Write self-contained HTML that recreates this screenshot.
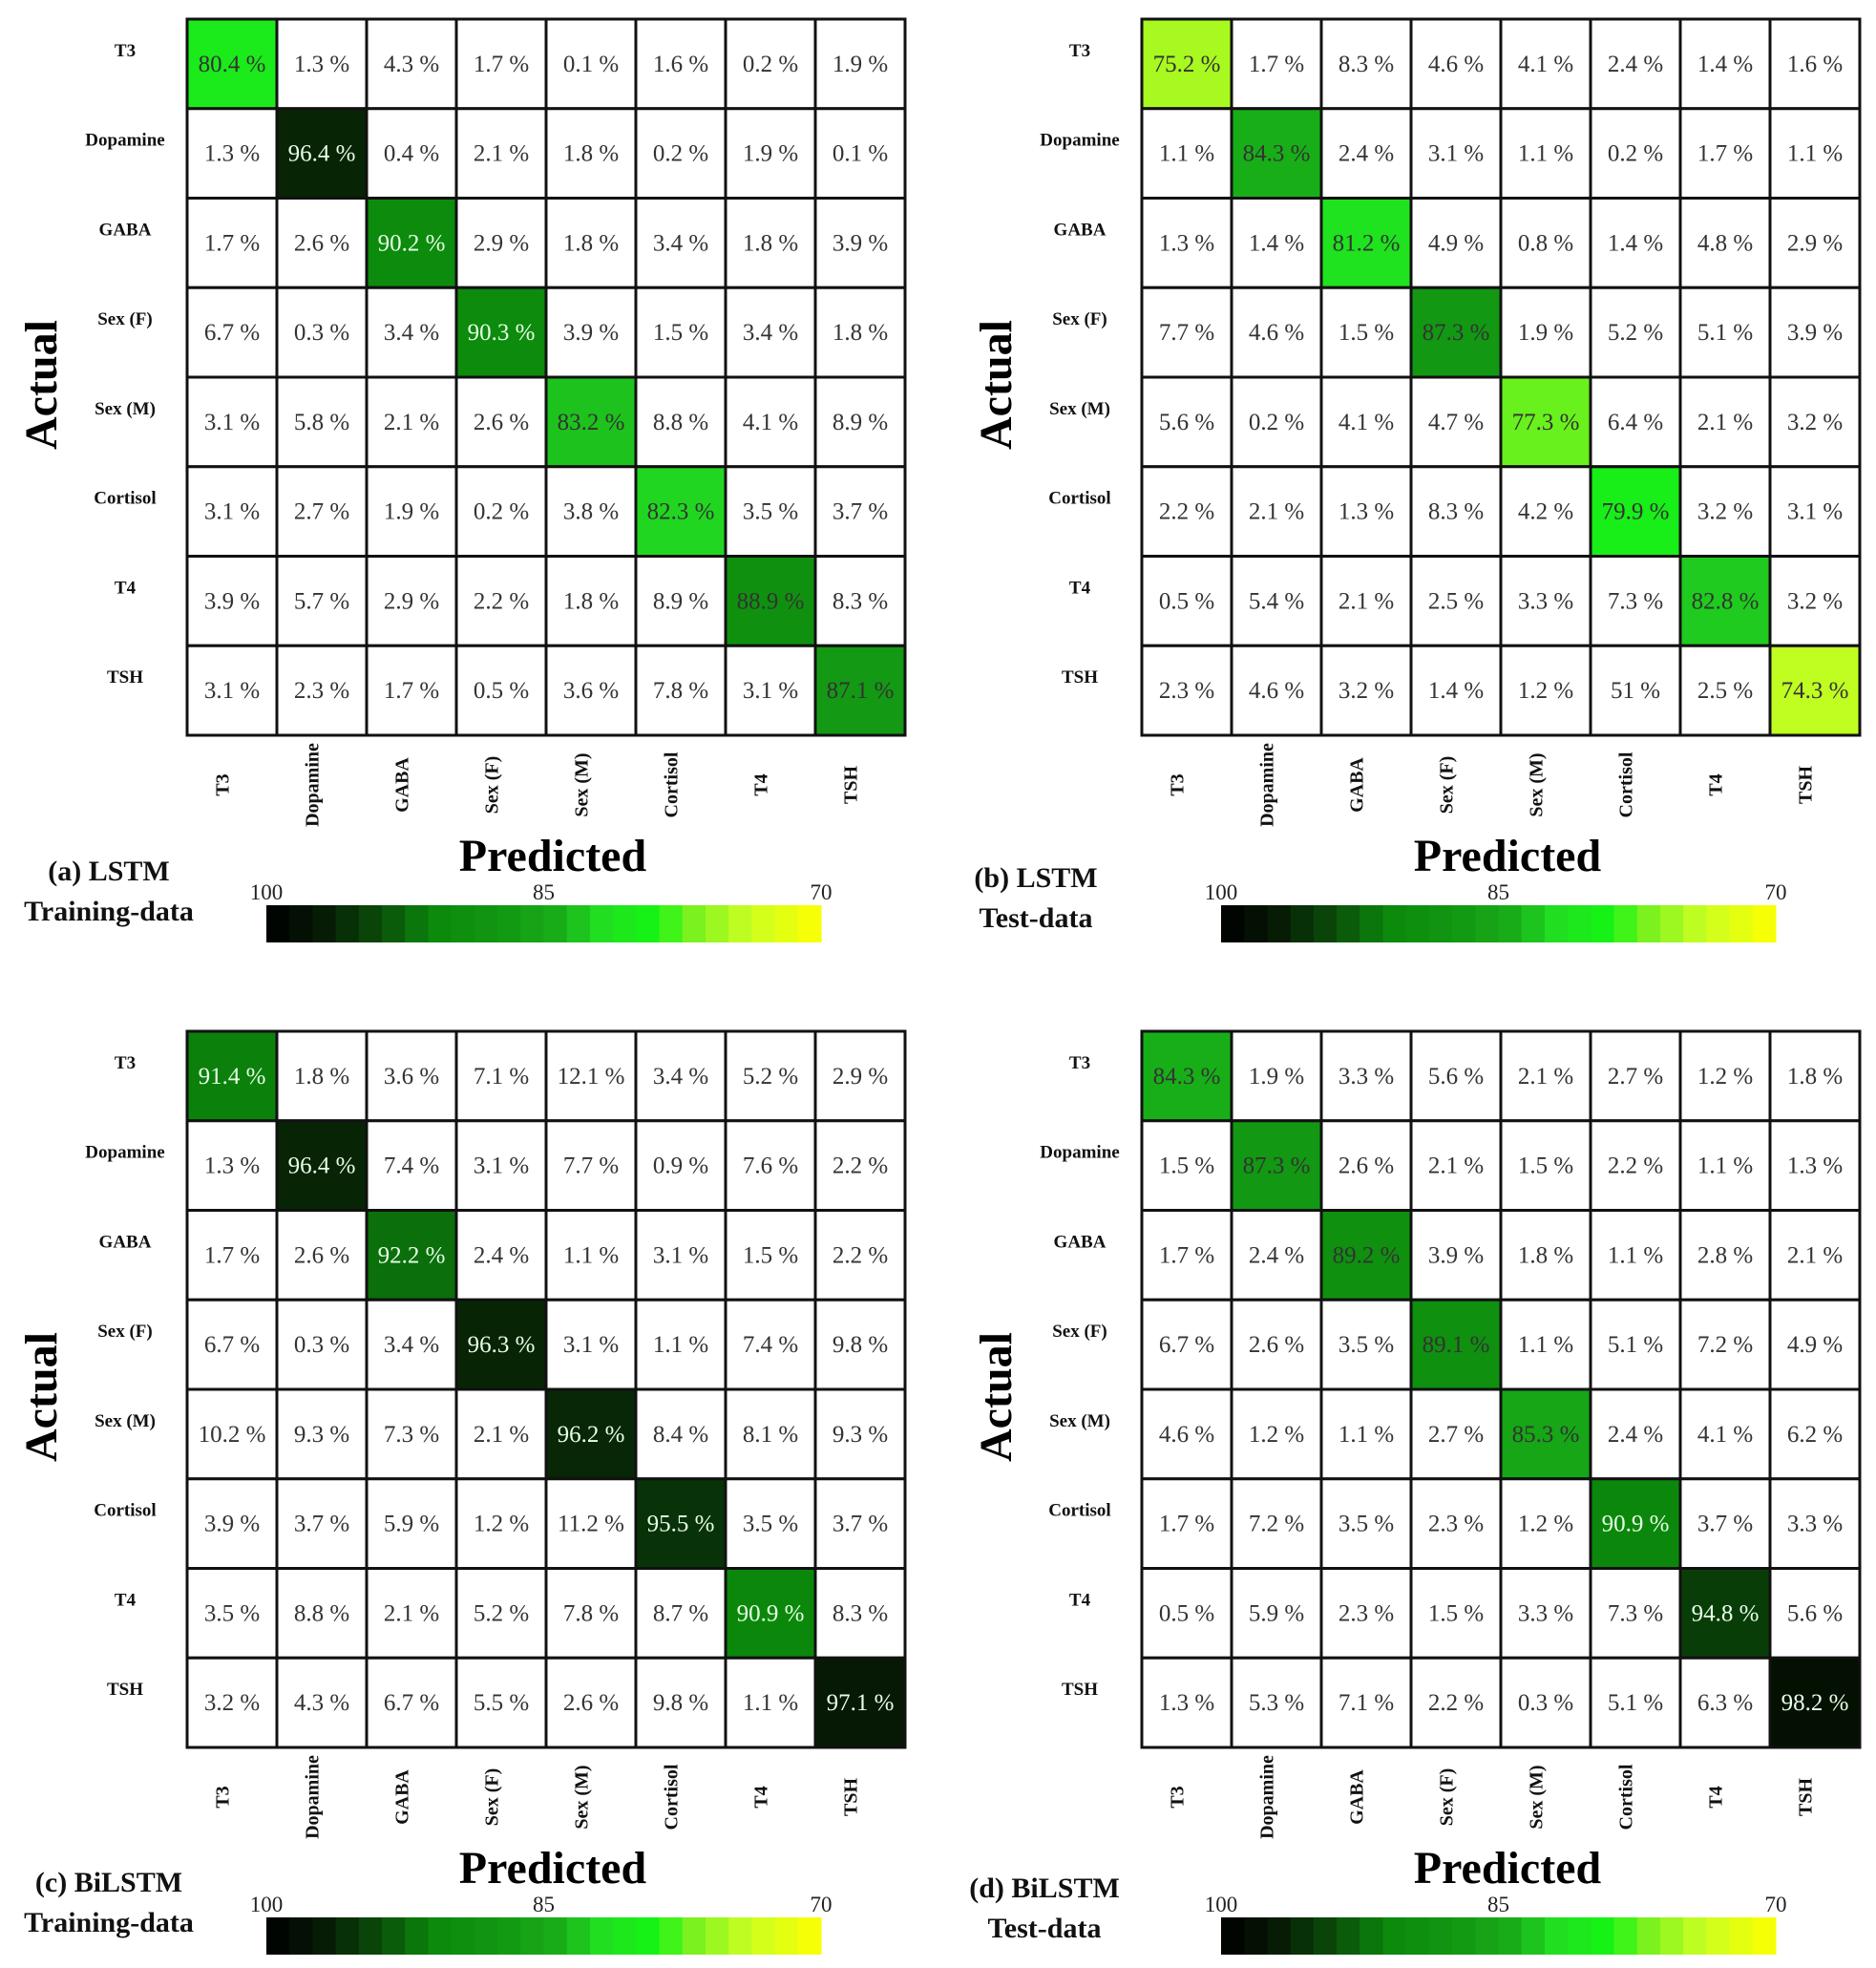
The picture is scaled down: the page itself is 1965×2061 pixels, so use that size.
<!DOCTYPE html>
<html><head><meta charset="utf-8"><style>
html,body{margin:0;padding:0;background:#fff}
svg{display:block}
text{font-family:"Liberation Serif",serif}
</style></head><body>
<svg id="fig" width="1965" height="2061" viewBox="0 0 1965 2061" xmlns="http://www.w3.org/2000/svg"></svg>
<script>
const classes = ["T3","Dopamine","GABA","Sex (F)","Sex (M)","Cortisol","T4","TSH"];
const lstmTrain = [
[80.4,1.3,4.3,1.7,0.1,1.6,0.2,1.9],
[1.3,96.4,0.4,2.1,1.8,0.2,1.9,0.1],
[1.7,2.6,90.2,2.9,1.8,3.4,1.8,3.9],
[6.7,0.3,3.4,90.3,3.9,1.5,3.4,1.8],
[3.1,5.8,2.1,2.6,83.2,8.8,4.1,8.9],
[3.1,2.7,1.9,0.2,3.8,82.3,3.5,3.7],
[3.9,5.7,2.9,2.2,1.8,8.9,88.9,8.3],
[3.1,2.3,1.7,0.5,3.6,7.8,3.1,87.1]];
const lstmTest = [
[75.2,1.7,8.3,4.6,4.1,2.4,1.4,1.6],
[1.1,84.3,2.4,3.1,1.1,0.2,1.7,1.1],
[1.3,1.4,81.2,4.9,0.8,1.4,4.8,2.9],
[7.7,4.6,1.5,87.3,1.9,5.2,5.1,3.9],
[5.6,0.2,4.1,4.7,77.3,6.4,2.1,3.2],
[2.2,2.1,1.3,8.3,4.2,79.9,3.2,3.1],
[0.5,5.4,2.1,2.5,3.3,7.3,82.8,3.2],
[2.3,4.6,3.2,1.4,1.2,51,2.5,74.3]];
const bilstmTrain = [
[91.4,1.8,3.6,7.1,12.1,3.4,5.2,2.9],
[1.3,96.4,7.4,3.1,7.7,0.9,7.6,2.2],
[1.7,2.6,92.2,2.4,1.1,3.1,1.5,2.2],
[6.7,0.3,3.4,96.3,3.1,1.1,7.4,9.8],
[10.2,9.3,7.3,2.1,96.2,8.4,8.1,9.3],
[3.9,3.7,5.9,1.2,11.2,95.5,3.5,3.7],
[3.5,8.8,2.1,5.2,7.8,8.7,90.9,8.3],
[3.2,4.3,6.7,5.5,2.6,9.8,1.1,97.1]];
const bilstmTest = [
[84.3,1.9,3.3,5.6,2.1,2.7,1.2,1.8],
[1.5,87.3,2.6,2.1,1.5,2.2,1.1,1.3],
[1.7,2.4,89.2,3.9,1.8,1.1,2.8,2.1],
[6.7,2.6,3.5,89.1,1.1,5.1,7.2,4.9],
[4.6,1.2,1.1,2.7,85.3,2.4,4.1,6.2],
[1.7,7.2,3.5,2.3,1.2,90.9,3.7,3.3],
[0.5,5.9,2.3,1.5,3.3,7.3,94.8,5.6],
[1.3,5.3,7.1,2.2,0.3,5.1,6.3,98.2]];
const colorbarTicks = [100,85,70];

const NS="http://www.w3.org/2000/svg";
const svg=document.getElementById('fig');
function mk(tag,attrs,parent,txt){const e=document.createElementNS(NS,tag);for(const k in attrs)e.setAttribute(k,attrs[k]);if(txt!==undefined)e.textContent=txt;(parent||svg).appendChild(e);return e;}
const stops=[[100,[0,0,0]],[97,[6,26,4]],[94,[10,74,10]],[91,[11,136,11]],[87,[19,153,19]],[84,[25,176,25]],[82,[34,221,34]],[79,[20,245,20]],[77,[120,240,30]],[74,[200,255,34]],[70,[255,255,0]]];
function cmap(v){v=Math.max(70,Math.min(100,v));for(let i=0;i<stops.length-1;i++){const a=stops[i],b=stops[i+1];if(v<=a[0]&&v>=b[0]){const t=(a[0]-v)/(a[0]-b[0]);const c=a[1].map((x,j)=>Math.round(x+(b[1][j]-x)*t));return `rgb(${c[0]},${c[1]},${c[2]})`;}}return '#ff0';}
const CW=94,CH=93.75;
const panels=[
{data:lstmTrain,x:196,y:20,cap1:"(a) LSTM",cap2:"Training-data",cx:114,cy:922,cbx:279,name:"a"},
{data:lstmTest,x:1196,y:20,cap1:"(b) LSTM",cap2:"Test-data",cx:1085,cy:929,cbx:1279,name:"b"},
{data:bilstmTrain,x:196,y:1080,cap1:"(c) BiLSTM",cap2:"Training-data",cx:114,cy:1981,cbx:279,name:"c"},
{data:bilstmTest,x:1196,y:1080,cap1:"(d) BiLSTM",cap2:"Test-data",cx:1094,cy:1987,cbx:1279,name:"d"}];
panels.forEach(p=>{
 const g=mk('g',{});
 
 
 p.data.forEach((row,i)=>row.forEach((v,j)=>{
   const x=p.x+j*CW,y=p.y+i*CH;
   const r=mk('rect',{x:x,y:y,width:CW,height:CH,fill:i===j?cmap(v):'#fff',stroke:'#111','stroke-width':3},g);
   
   
   const t=mk('text',{x:x+CW/2,y:y+CH/2+8,'text-anchor':'middle','font-size':25,fill:(i===j&&v>=90)?'#e8ffe8':'#333'},g,v+' %');
   
   
 }));
 classes.forEach((c,i)=>{
   const t=mk('text',{x:p.x-65,y:p.y+i*CH+CH/2-8,'text-anchor':'middle','font-size':19,'font-weight':'bold',fill:'#111'},g,c);
   
   
   const cx=p.x+i*CW+CW/2-8, cy=p.y+8*CH+52;
   const u=mk('text',{x:cx,y:cy,'text-anchor':'middle','font-size':20,'font-weight':'bold',fill:'#111',transform:`rotate(-90 ${cx} ${cy})`,'dominant-baseline':'middle'},g,c);
   
   
 });
 const ax=p.x-137, ay=p.y+4*CH+8;
 const a=mk('text',{x:ax,y:ay,'text-anchor':'middle','font-size':48,'font-weight':'bold',fill:'#000',transform:`rotate(-90 ${ax} ${ay})`},g,'Actual');
 
 
 const pr=mk('text',{x:p.x+4*CW+7,y:p.y+8*CH+142,'text-anchor':'middle','font-size':48,'font-weight':'bold',fill:'#000'},g,'Predicted');
 
 
 const c1=mk('text',{x:p.cx,y:p.cy,'text-anchor':'middle','font-size':30,'font-weight':'bold',fill:'#111'},g,p.cap1);
 
 
 const c2=mk('text',{x:p.cx,y:p.cy+42,'text-anchor':'middle','font-size':30,'font-weight':'bold',fill:'#111'},g,p.cap2);
 
 
 const cbw=581, cby=p.y+8*CH+178, cbh=39, n=24;
 for(let k=0;k<n;k++){
   const v=100-(k+0.5)*30/n;
   const s=mk('rect',{x:p.cbx+k*cbw/n,y:cby,width:cbw/n+0.5,height:cbh,fill:cmap(v)},g);
   
   
 }
 colorbarTicks.forEach(tv=>{
   const tx=p.cbx+(100-tv)/30*cbw;
   const t=mk('text',{x:tx,y:cby-6,'text-anchor':'middle','font-size':23,fill:'#222'},g,String(tv));
   
   
 });
});
</script>
</body></html>
